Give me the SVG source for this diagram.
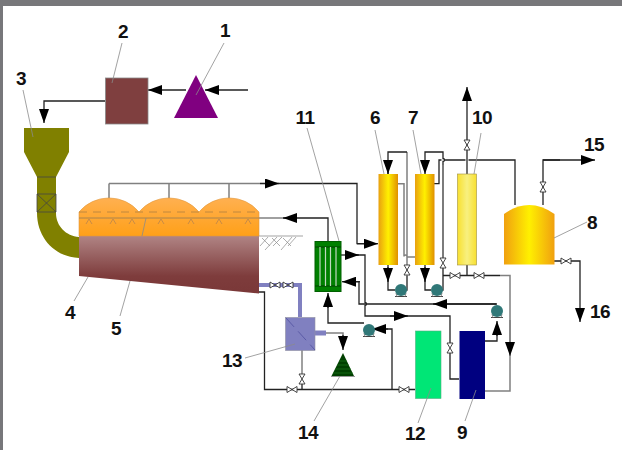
<svg xmlns="http://www.w3.org/2000/svg" width="622" height="450" viewBox="0 0 622 450">
<style>
text{font-family:"Liberation Sans",Arial,sans-serif;font-weight:bold;font-size:19px;letter-spacing:-.5px;fill:#111;text-anchor:middle}
.k{fill:none;stroke:#222;stroke-width:1.3}
.g{fill:none;stroke:#808080;stroke-width:1.5}
.a{marker-end:url(#ah)}
.l{fill:none;stroke:#8a8a8a;stroke-width:.8}
.t{stroke:#8a8a8a;stroke-width:.7}
.p{fill:none;stroke:#8080c0;stroke-width:4}
</style>
<defs>
<marker id="ah" markerUnits="userSpaceOnUse" markerWidth="15" markerHeight="10" refX="14" refY="5" orient="auto"><path d="M0 0L14 5L0 10z" fill="#000"/></marker>
<linearGradient id="col" x1="0" x2="1" y1="0" y2="0"><stop offset="0" stop-color="#e8a010"/><stop offset=".5" stop-color="#fff000"/><stop offset="1" stop-color="#e09000"/></linearGradient>
<linearGradient id="col10" x1="0" x2="1" y1="0" y2="0"><stop offset="0" stop-color="#f8e030"/><stop offset=".5" stop-color="#f8f080"/><stop offset="1" stop-color="#f8e030"/></linearGradient>
<linearGradient id="tank" x1="0" x2="1" y1="0" y2="0"><stop offset="0" stop-color="#f0a010"/><stop offset=".5" stop-color="#fff000"/><stop offset="1" stop-color="#f0a010"/></linearGradient>
<linearGradient id="bot" x1="0" x2="0" y1="0" y2="1"><stop offset="0" stop-color="#b08484"/><stop offset=".7" stop-color="#7e3c3c"/><stop offset="1" stop-color="#7a3838"/></linearGradient>
<linearGradient id="top" x1="0" x2="0" y1="0" y2="1"><stop offset="0" stop-color="#ffb050"/><stop offset="1" stop-color="#ffa018"/></linearGradient>
<g id="vv"><path d="M-3 -5H3L-3 5H3z" fill="#fff" stroke="#333" stroke-width=".9"/></g>
<g id="vh"><path d="M-5 -3V3L5 -3V3z" fill="#fff" stroke="#333" stroke-width=".9"/></g>
<g id="pump"><path d="M-6 6.500H6" stroke="#444" stroke-width="1"/><path d="M-4 6.500L-5 3M4 6.500L5 3" stroke="#888"/><circle r="6" fill="#307878"/></g>
</defs>
<rect width="622" height="450" fill="#fff"/>
<rect width="622" height="6" fill="#77777a"/>
<rect width="3" height="450" fill="#77777a"/>
<g id="connectors">
<path class="k a" d="M248 90H205"/><path class="k a" d="M186 90H148"/>
<path class="k a" d="M105 101H44V123"/>
<path class="g" d="M109 198V183.500M169 198V184M229 198V184M109 183.500H265"/>
<path class="k" d="M265 183.500H357V243.700H365"/><path class="k a" d="M260 183.500H279"/><path class="k a" d="M357 243.700H378"/>
<path class="g" d="M259 218H290"/><path class="k a" d="M328 242V218H283"/>
<path class="k" d="M355 255H365V302.500a1.500 1.500 0 0 1 0 3V316H450V345"/><path class="k a" d="M341 255H359"/>
<path class="k" d="M450 352V379H459"/>
<path class="k a" d="M390 316H408"/>
<path class="k" d="M497 304H359V281.700H355"/><path class="k a" d="M360 281.700H342"/><path class="k a" d="M496 304H433"/>
<path class="k" d="M485 341H497V325"/><path class="k a" d="M497 336V321"/>
<path class="g" d="M398 183.700H404V256.500a1.500 1.500 0 0 1 3 0V276M407 152V257H415"/>
<path class="k" d="M388 174V152H407"/>
<path class="k a" d="M388 160V174"/>
<path class="k" d="M407 276V290H401"/>
<path class="k" d="M388 265V290H395"/><path class="k a" d="M388 267V282"/>
<path class="k a" d="M425 160V174"/>
<path class="k" d="M425 160V152H443V158.500a1.500 1.500 0 0 1 0 3V262"/>
<path class="g" d="M443 165V262"/>
<path class="k" d="M425 265V290H431M443 268V290H437"/><path class="k a" d="M425 267V282"/>
<path class="k" d="M434 183.700H439V160H441.500M444.500 160H465.500M468.500 160H515V205"/>
<path class="k a" d="M467 174V87"/>
<path class="k" d="M543 205V160H560"/><path class="k a" d="M543 160H595"/>
<path class="k" d="M554 261H580V300"/><path class="k a" d="M580 300V322"/>
<path class="k" d="M467 265V275.500M443 275.500H500"/><path class="g" d="M500 275.500H510V391H485"/><path class="g a" d="M510 320V356"/>
<path class="p" d="M259 285H300V317"/>
<path class="p" d="M315 333H326" style="stroke-width:5"/>
<path class="g" d="M326 333H343V340"/><path class="k a" d="M343 335V350"/>
<path class="k" d="M259 292H264.500V389.500H415"/>
<path class="g" d="M302 350V378"/>
<path class="k" d="M302 380V389M392 389.500V329H385"/>
<path class="k a" d="M388 329H372"/>
<path class="k" d="M364 323H328V305"/><path class="k a" d="M328 308V293"/>
<use href="#vh" x="275" y="285"/><use href="#vh" x="288" y="285"/>
<use href="#vv" x="407" y="270"/><use href="#vv" x="443" y="263"/><use href="#vv" x="467" y="145"/><use href="#vv" x="543" y="187"/>
<use href="#vh" x="566" y="261"/><use href="#vh" x="455" y="275.500"/><use href="#vh" x="479" y="275.500"/>
<use href="#vv" x="450" y="348"/><use href="#vv" x="302" y="379"/>
<use href="#vh" x="292" y="389.500"/><use href="#vh" x="404" y="389.500"/>
</g>
<g id="n1"><path d="M196 75L218 118H174z" fill="#800080"/><text x="225" y="37">1</text></g>
<g id="n2"><rect x="105.500" y="78" width="42.500" height="46" fill="#7f3f3f" stroke="#888" stroke-width=".8"/><text x="123" y="38">2</text></g>
<g id="n3"><path d="M24 128H69V152L56 177V213C56 226 66 236 79 237V258C55 257 37 238 37 213V177L24 152z" fill="#808000"/><path d="M37 177H56M37 194H56V212H37zM37 194L56 212M56 194L37 212" fill="none" stroke="#444" stroke-width=".8"/><text x="21" y="85">3</text></g>
<g id="n4"><path d="M79 236H259V293.500L79 276z" fill="url(#bot)"/><text x="70" y="319">4</text></g>
<g id="n5"><path d="M79 212A39 39 0 0 1 139 212A39 39 0 0 1 199 212A39 39 0 0 1 259 212V236H79z" fill="url(#top)" stroke="#e09840" stroke-width=".6"/>
<path d="M79 212H259" stroke="#b08040" stroke-width=".8" stroke-dasharray="8 6"/><path d="M79 218H259" stroke="#a08050" stroke-width=".9"/>
<path d="M86 224L89 219L92 224M110 224L113 219L116 224M129 224L132 219L135 224M158 224L161 219L164 224M188 224L191 219L194 224M216 224L219 219L222 224M245 224L248 219L251 224" fill="none" stroke="#b08050" stroke-width=".7"/>
<path d="M259 236H303" stroke="#999" stroke-width=".9"/>
<path d="M260 246L268 237M265 250L277 237M273 246L282 237M281 250L292 237M288 246L296 237M262 238L270 246M272 238L280 246M283 238L291 246" class="t"/>
<text x="116" y="335">5</text></g>
<g id="n6"><rect x="378.500" y="174" width="19.500" height="91" fill="url(#col)"/><text x="375" y="124">6</text></g>
<g id="n7"><rect x="415" y="174" width="19.500" height="91" fill="url(#col)"/><text x="413" y="124">7</text></g>
<g id="n10"><rect x="457.500" y="174" width="19" height="91" fill="url(#col10)" stroke="#a09040" stroke-width=".6"/><text x="482" y="124">10</text></g>
<g id="n8"><path d="M504 214Q529 196 554.500 214V264.500H504z" fill="url(#tank)"/><text x="592" y="229">8</text></g>
<g id="n11"><rect x="315" y="241.500" width="26" height="50" fill="#008000" stroke="#006000"/><path d="M315 247H341M315 286H341" stroke="#004000"/><path d="M320 247V286M325.500 247V286M330.500 247V286M336 247V286" stroke="#c0d8c0" stroke-width="1.200"/><text x="305" y="124">11</text></g>
<g id="n9"><rect x="459.500" y="331" width="25.500" height="68" fill="#000080"/><text x="462" y="439">9</text></g>
<g id="n12"><rect x="415.500" y="331" width="25.500" height="67.500" fill="#00e676" stroke="#50b080" stroke-width=".6"/><text x="415" y="440">12</text></g>
<g id="n13"><rect x="285.500" y="317.500" width="29.500" height="33" fill="#8080c0" stroke="#9090a0" stroke-width=".6"/><path d="M286 318L315 350" stroke="#5050a0" stroke-width=".8" stroke-dasharray="12 6"/><text x="232" y="367">13</text></g>
<g id="n14"><path d="M343 353L354 376H331.500z" fill="#004000"/><path d="M331 376.500H355" stroke="#999"/><path d="M339 361H347M337 365H349M335 369H351M333 373H353" stroke="#208020" stroke-width=".6"/><text x="308" y="439">14</text></g>
<g id="pumps"><use href="#pump" x="401" y="290"/><use href="#pump" x="437" y="290"/><use href="#pump" x="497" y="311"/><use href="#pump" x="369" y="330"/></g>
<g id="outlets"><text x="594" y="151">15</text><text x="600" y="318">16</text></g>
<g id="leaders"><path class="l" d="M224 43L196 95M122 43L112 83M23 90L33 137M88 277L74 301M130 281L120 316M146 218L142 236M375 130L384 174M413 130L421 174M481 133L474 174M307 128L339 241M587 222L554 238M465 421L476 390M418 423L431 388M245 358L295 344M314 421L340 376"/></g>
</svg>
